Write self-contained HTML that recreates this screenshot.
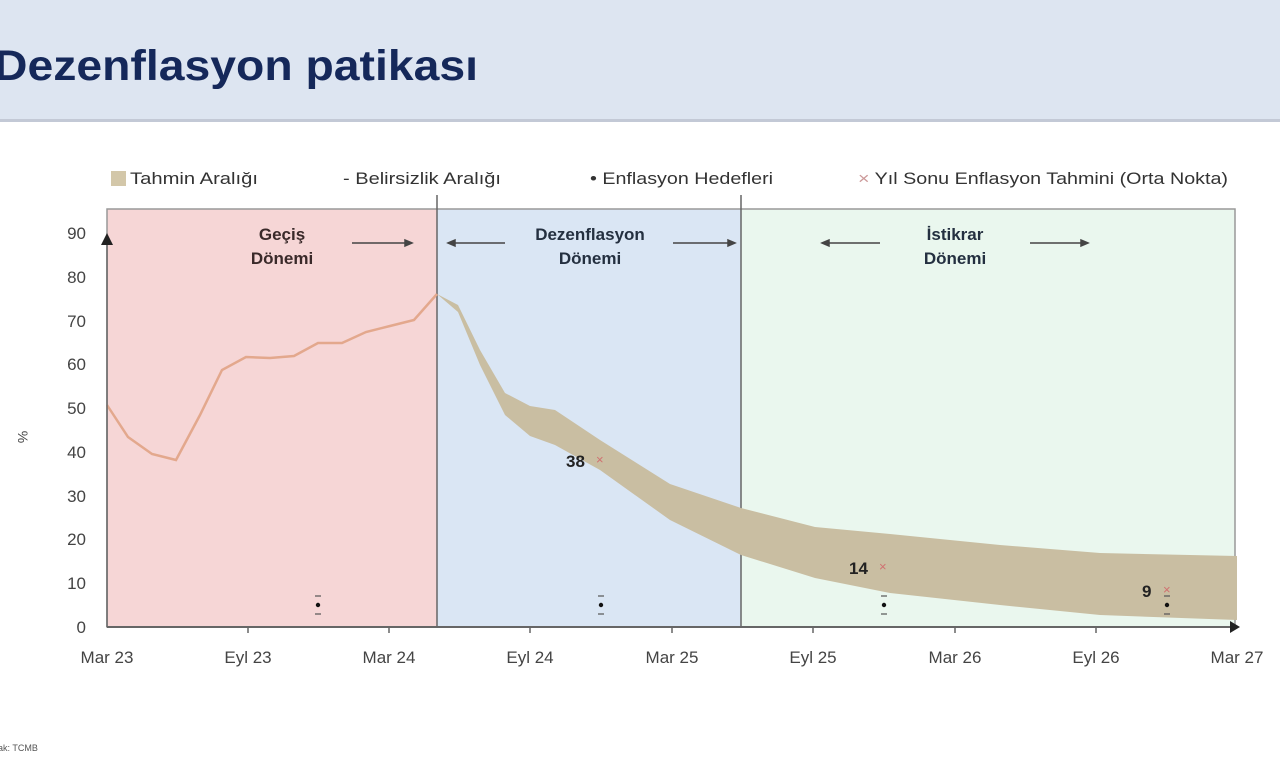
<!DOCTYPE html>
<html><head><meta charset="utf-8"><style>
body{margin:0;width:1280px;height:759px;background:#fff;overflow:hidden;font-family:"Liberation Sans",sans-serif}
</style></head><body>
<svg width="1280" height="759" xmlns="http://www.w3.org/2000/svg" font-family="Liberation Sans, sans-serif">
<rect x="0" y="0" width="1280" height="120" fill="#dde5f1"/>
<rect x="0" y="119" width="1280" height="3" fill="#c3c9d6"/>
<text x="-6" y="80" font-size="43" font-weight="bold" fill="#15285a" textLength="484" lengthAdjust="spacingAndGlyphs">Dezenflasyon patikası</text>
<!-- legend -->
<rect x="111" y="171" width="15" height="15" fill="#d3c7a9"/>
<text x="130" y="184" font-size="17" fill="#333" textLength="128" lengthAdjust="spacingAndGlyphs">Tahmin Aralığı</text>
<text x="343" y="184" font-size="17" fill="#333" textLength="158" lengthAdjust="spacingAndGlyphs">- Belirsizlik Aralığı</text>
<text x="590" y="184" font-size="17" fill="#333" textLength="183" lengthAdjust="spacingAndGlyphs">• Enflasyon Hedefleri</text>
<text x="858" y="184" font-size="17" fill="#333" textLength="370" lengthAdjust="spacingAndGlyphs"><tspan fill="#c99">×</tspan> Yıl Sonu Enflasyon Tahmini (Orta Nokta)</text>
<!-- regions -->
<rect x="107" y="209" width="330" height="418" fill="#f6d6d6"/>
<rect x="437" y="209" width="304" height="418" fill="#dae6f4"/>
<rect x="741" y="209" width="494" height="418" fill="#eaf7ee"/>
<rect x="107" y="209" width="1128" height="418" fill="none" stroke="#999" stroke-width="1.5"/>
<line x1="437" y1="195" x2="437" y2="627" stroke="#666" stroke-width="1.5"/>
<line x1="741" y1="195" x2="741" y2="627" stroke="#666" stroke-width="1.5"/>
<!-- region labels -->
<g font-size="17" font-weight="bold" fill="#3a2a2a" text-anchor="middle">
<text x="282" y="240">Geçiş</text><text x="282" y="264">Dönemi</text>
<text x="590" y="240" fill="#243040">Dezenflasyon</text><text x="590" y="264" fill="#243040">Dönemi</text>
<text x="955" y="240" fill="#243040">İstikrar</text><text x="955" y="264" fill="#243040">Dönemi</text>
</g>
<g stroke="#444" stroke-width="1.5" fill="#444">
<line x1="352" y1="243" x2="408" y2="243"/><polygon points="412,243 405,240 405,246"/>
<line x1="453" y1="243" x2="505" y2="243"/><polygon points="448,243 455,240 455,246"/>
<line x1="673" y1="243" x2="730" y2="243"/><polygon points="735,243 728,240 728,246"/>
<line x1="827" y1="243" x2="880" y2="243"/><polygon points="822,243 829,240 829,246"/>
<line x1="1030" y1="243" x2="1083" y2="243"/><polygon points="1088,243 1081,240 1081,246"/>
</g>
<!-- band -->
<path d="M437,294 L458,305 L480,350 L505,393 L530,406 L555,410 L600,440 L670,484 L741,508 L815,527 L890,534 L1000,545 L1100,553 L1237,556 L1237,620 L1100,615 L1000,605 L890,593 L815,578 L741,555 L670,520 L600,470 L555,445 L530,436 L505,415 L480,365 L458,312 Z" fill="#c9bea2"/>
<!-- line -->
<polyline points="107,405 128,437 152,454 176,460 200,415 222,370 246,357 270,358 294,356 318,343 342,343 366,332 390,326 414,320 437,294" fill="none" stroke="#e3a88d" stroke-width="2.5"/>
<!-- axes -->
<line x1="107" y1="627" x2="1235" y2="627" stroke="#666" stroke-width="2"/>
<polygon points="1240,627 1230,621 1230,633" fill="#222"/>
<line x1="107" y1="240" x2="107" y2="627" stroke="#666" stroke-width="1.5"/>
<polygon points="107,233 101,245 113,245" fill="#222"/>
<g stroke="#666" stroke-width="1.5">
<line x1="248" y1="627" x2="248" y2="633"/><line x1="389" y1="627" x2="389" y2="633"/><line x1="530" y1="627" x2="530" y2="633"/><line x1="672" y1="627" x2="672" y2="633"/><line x1="813" y1="627" x2="813" y2="633"/><line x1="955" y1="627" x2="955" y2="633"/><line x1="1096" y1="627" x2="1096" y2="633"/>
</g>
<g font-size="17" fill="#444" text-anchor="end">
<text x="86" y="633">0</text><text x="86" y="589">10</text><text x="86" y="545">20</text><text x="86" y="502">30</text><text x="86" y="458">40</text><text x="86" y="414">50</text><text x="86" y="370">60</text><text x="86" y="327">70</text><text x="86" y="283">80</text><text x="86" y="239">90</text>
</g>
<text x="18" y="437" font-size="14" fill="#444" transform="rotate(90 18 437)" text-anchor="middle">%</text>
<g font-size="17" fill="#444" text-anchor="middle">
<text x="107" y="663">Mar 23</text><text x="248" y="663">Eyl 23</text><text x="389" y="663">Mar 24</text><text x="530" y="663">Eyl 24</text><text x="672" y="663">Mar 25</text><text x="813" y="663">Eyl 25</text><text x="955" y="663">Mar 26</text><text x="1096" y="663">Eyl 26</text><text x="1237" y="663">Mar 27</text>
</g>
<!-- markers -->
<g font-size="17" font-weight="bold" fill="#222">
<text x="566" y="467">38</text><text x="849" y="574">14</text><text x="1142" y="597">9</text>
</g>
<g font-size="13" fill="#d07070">
<text x="596" y="464">×</text><text x="879" y="571">×</text><text x="1163" y="594">×</text>
</g>
<g fill="#111">
<circle cx="318" cy="605" r="2.2"/><circle cx="601" cy="605" r="2.2"/><circle cx="884" cy="605" r="2.2"/><circle cx="1167" cy="605" r="2.2"/>
</g>
<g stroke="#555" stroke-width="1.2">
<line x1="315" y1="596" x2="321" y2="596"/><line x1="315" y1="614" x2="321" y2="614"/>
<line x1="598" y1="596" x2="604" y2="596"/><line x1="598" y1="614" x2="604" y2="614"/>
<line x1="881" y1="596" x2="887" y2="596"/><line x1="881" y1="614" x2="887" y2="614"/>
<line x1="1164" y1="596" x2="1170" y2="596"/><line x1="1164" y1="614" x2="1170" y2="614"/>
</g>
<text x="-2" y="751" font-size="9" fill="#555">ak: TCMB</text>
</svg>
</body></html>
